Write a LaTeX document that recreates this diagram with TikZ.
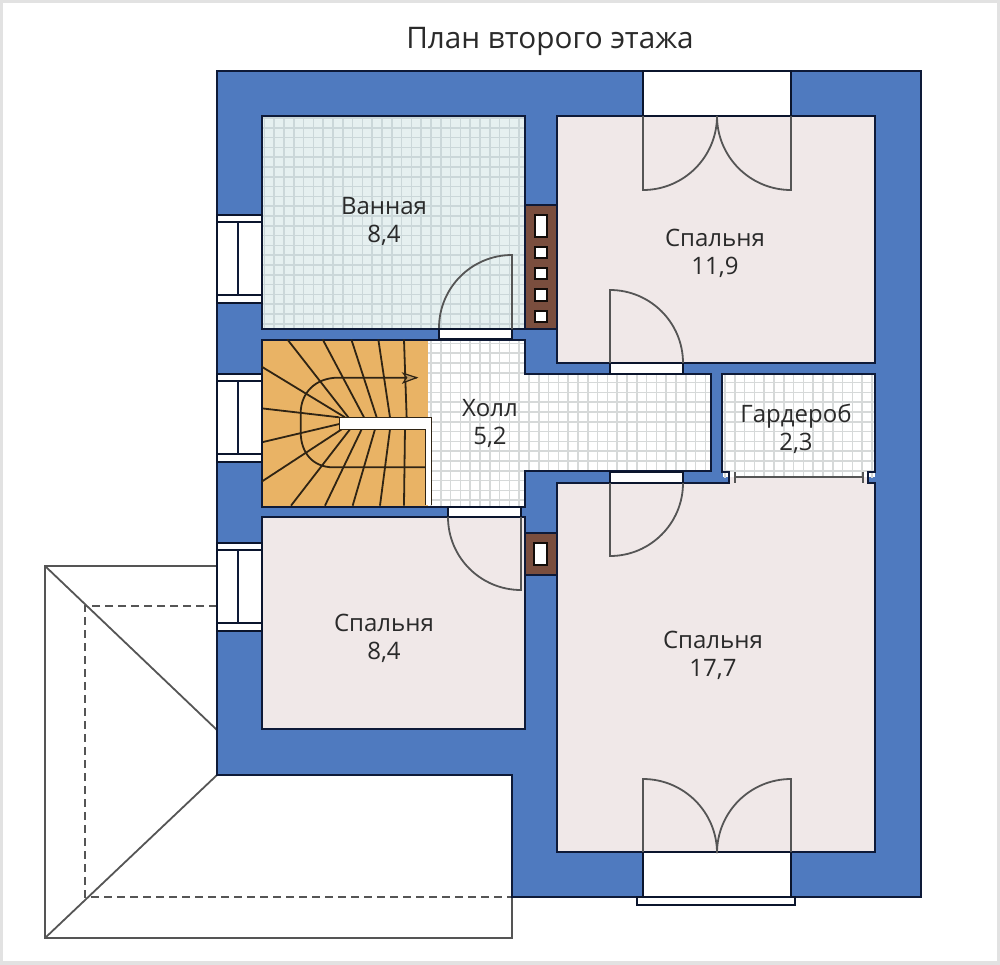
\documentclass[tikz,border=0pt]{standalone}
\usepackage{fontspec}
\setmainfont{Open Sans}
\definecolor{wallblue}{HTML}{4F7ABF}
\definecolor{roompink}{HTML}{F0E8E8}
\definecolor{bathbg}{HTML}{E6F0F0}
\definecolor{bathgrid}{HTML}{CBD7D9}
\definecolor{hallgrid}{HTML}{D6D9D9}
\definecolor{stairbg}{HTML}{E9B365}
\definecolor{flue}{HTML}{7A4E3E}
\definecolor{ink}{HTML}{0E1A38}
\definecolor{thin}{HTML}{555555}
\definecolor{txt}{HTML}{2A2A2A}
\definecolor{framegrey}{HTML}{E2E2E2}
\tikzset{
  wall/.style={draw=ink,line width=2.8pt,line join=miter},
  thinline/.style={draw=thin,line width=1.8pt},
  roofdash/.style={draw=thin,line width=1.6pt,dash pattern=on 8pt off 5pt},
  opening/.style={fill=white,draw=ink!80!black,line width=2.4pt},
  stairline/.style={draw=black!80!stairbg,line width=1.8pt},
  label/.style={text=txt,font=\fontsize{24}{28}\selectfont,align=center,inner sep=0pt}
}
\newcommand{\tilegrid}[5]{% x0,y0,x1,y1,color
  \begin{scope}
  \clip (#1,#2) rectangle (#3,#4);
  \foreach \k in {0,...,64}{
    \draw[#5,line width=1.6pt] ({264.4+9.8*\k},100) -- ({264.4+9.8*\k},520);
  }
  \foreach \k in {0,...,42}{
    \draw[#5,line width=1.6pt] (250,{118+9.8*\k}) -- (880,{118+9.8*\k});
  }
  \end{scope}
}
\begin{document}
\begin{tikzpicture}[x=1pt,y=-1pt]
\useasboundingbox (0,0) rectangle (1000,964);
\fill[white] (0,0) rectangle (1000,964);
\draw[framegrey,line width=6pt] (0,0) rectangle (1000,964);
% roof
\draw[thinline] (217,566) -- (45,566) -- (45,938) -- (512,938) -- (512,775);
\draw[thinline] (45,566) -- (217,730);
\draw[thinline] (45,938) -- (217,775);
\draw[roofdash] (217,606) -- (85,606) -- (85,897) -- (512,897);
% wall mass
\fill[wallblue,draw=ink,line width=2.4pt] (217,71) -- (921,71) -- (921,897) -- (512,897) -- (512,775) -- (217,775) -- cycle;
% balcony strip
\draw[opening,line width=1.6pt] (637,897) rectangle (795,905);
% rooms
\fill[bathbg] (262,116) rectangle (525,329);
\tilegrid{262}{116}{525}{329}{bathgrid}
\draw[wall] (262,116) rectangle (525,329);
\fill[roompink] (557,116) rectangle (875,363);
\draw[wall] (557,116) rectangle (875,363);
\fill[white] (428,340) -- (525,340) -- (525,374) -- (711,374) -- (711,471) -- (525,471) -- (525,507) -- (428,507) -- cycle;
\begin{scope}
\clip (428,340) -- (525,340) -- (525,374) -- (711,374) -- (711,471) -- (525,471) -- (525,507) -- (428,507) -- cycle;
\tilegrid{428}{340}{711}{507}{hallgrid}
\end{scope}
\fill[stairbg] (262,340) rectangle (428,507);
% wardrobe + big bedroom
\fill[roompink] (557,483) -- (729,483) -- (729,472) -- (722,472) -- (722,374) -- (875,374) -- (875,472) -- (868,472) -- (868,483) -- (875,483) -- (875,852) -- (557,852) -- cycle;
\fill[white] (723,375) rectangle (875,477);
\tilegrid{723}{375}{875}{477}{hallgrid}
\draw[wall] (557,483) -- (729,483) -- (729,472) -- (722,472) -- (722,374) -- (875,374) -- (875,472) -- (868,472) -- (868,483) -- (875,483) -- (875,852) -- (557,852) -- cycle;
\draw[thinline] (735,477) -- (863,477);
\draw[thinline] (735,472) -- (735,483);
\draw[thinline] (863,472) -- (863,483);
\fill[roompink] (262,517) rectangle (525,729);
\draw[wall] (262,517) rectangle (525,729);
% hall & stair outline
\draw[wall] (262,340) -- (525,340) -- (525,374) -- (711,374) -- (711,471) -- (525,471) -- (525,507) -- (262,507) -- cycle;
% stair lines
\begin{scope}[shift={(210,330)},x=0.3333pt,y=-0.3333pt]
\foreach \a/\b/\c/\d in {232/28/415/262,338/28/462/262,424/28/500/262,505/28/540/262,582/28/590/262,
  155/110/405/262,155/235/388/262,155/337/388/282,155/455/395/298,
  243/527/420/298,345/527/455/298,428/527/495/298,510/527/540/298,582/527/585/298}{
  \draw[stairline] (\a,\b) -- (\c,\d);
}
\draw[stairline] (620,143) -- (385,143) .. controls (315,143) and (272,190) .. (272,250) -- (272,305) .. controls (272,370) and (310,412) .. (370,412) -- (645,412);
\draw[stairline,line width=1.2pt,fill=stairbg!70!thin] (620,143) -- (580,130) -- (590,143) -- (580,158) -- cycle;
\fill[white] (388,262) rectangle (660,298);
\fill[white] (648,262) rectangle (665,525);
\draw[stairline,line width=1pt] (388,262) -- (665,262) -- (665,525);
\draw[stairline,line width=1pt] (388,262) -- (388,298) -- (648,298) -- (648,525);
\end{scope}
% chimneys
\fill[flue,draw=ink,line width=2.4pt] (525,205) rectangle (557,329);
\foreach \t/\h in {215/22,247/11,268/11,289/12,311/11}{
  \draw[fill=white,draw=black!85!flue,line width=2.8pt] (535,\t) rectangle (547,{\t+\h});
}
\fill[flue,draw=ink,line width=2.4pt] (525,533) rectangle (557,575);
\draw[fill=white,draw=black!85!flue,line width=2.8pt] (534,543) rectangle (547,565);
% windows
\foreach \y in {215,374,543}{
  \draw[opening] (217,\y) rectangle (262,{\y+7});
  \draw[opening] (217,{\y+7}) rectangle (262,{\y+80});
  \draw[opening] (217,{\y+80}) rectangle (262,{\y+88});
  \draw[draw=ink,line width=2.4pt] (238,{\y+7}) -- (238,{\y+80});
}
% door openings
\draw[opening] (439,329) rectangle (512,339);
\draw[opening] (610,363) rectangle (683,374);
\draw[opening] (610,472) rectangle (683,483);
\draw[opening] (448,507) rectangle (521,517);
\draw[opening] (643,71) rectangle (791,116);
\draw[opening] (643,852) rectangle (791,897);
% door leaves
\draw[thinline] (512,329) -- (512,255) arc[start angle=-90,end angle=-180,radius=73];
\draw[thinline] (610,363) -- (610,290) arc[start angle=-90,end angle=0,radius=73];
\draw[thinline] (610,483) -- (610,556) arc[start angle=90,end angle=0,radius=73];
\draw[thinline] (521,517) -- (521,590) arc[start angle=90,end angle=180,radius=73];
\draw[thinline] (643,116) -- (643,190) arc[start angle=90,end angle=0,radius=74];
\draw[thinline] (791,116) -- (791,190) arc[start angle=90,end angle=180,radius=74];
\draw[thinline] (643,852) -- (643,779) arc[start angle=-90,end angle=0,radius=74];
\draw[thinline] (791,852) -- (791,779) arc[start angle=-90,end angle=-180,radius=74];
% texts
\node[label,font=\fontsize{29.7}{34}\selectfont] (title) at (550,41) {План второго этажа};
\node[label] (bath) at (384,221) {Ванная\\8,4};
\node[label] (bed1) at (715,253) {Спальня\\11,9};
\node[label] (hall) at (490,423) {Холл\\5,2};
\node[label] (ward) at (796,429) {Гардероб\\2,3};
\node[label] (bed2) at (384,638) {Спальня\\8,4};
\node[label] (bed3) at (713,655) {Спальня\\17,7};
\end{tikzpicture}
\end{document}
